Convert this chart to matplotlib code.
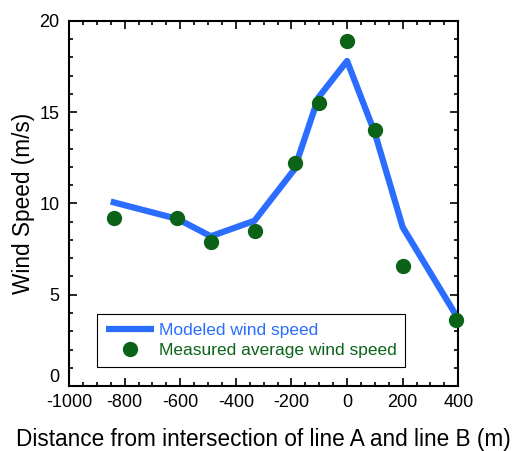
import numpy as np
import matplotlib
matplotlib.use('Agg')
import matplotlib.pyplot as plt
from matplotlib.ticker import MultipleLocator

plt.rcParams['font.family'] = ['Liberation Sans', 'DejaVu Sans']
plt.rcParams['axes.unicode_minus'] = False

# Modeled wind speed (line)
model_x = [-850, -610, -490, -333, -190, -103, 0, 100, 200, 395]
model_y = [10.1, 9.15, 8.2, 9.05, 11.85, 15.8, 17.8, 13.85, 8.7, 3.8]

# Measured average wind speed (dots)
meas_x = [-840, -610, -490, -330, -188, -100, 0, 100, 200, 393]
meas_y = [9.2, 9.2, 7.9, 8.5, 12.2, 15.5, 18.9, 14.0, 6.6, 3.6]

y_ticks = [0, 5, 10, 15, 20]

fig = plt.figure(figsize=(5.19, 4.51), dpi=100)
ax = fig.add_axes([0.133, 0.144, 0.750, 0.810])

ax.plot(model_x, model_y, color='#2a6dff', linewidth=4.5, solid_capstyle='butt',
        label='Modeled wind speed', zorder=2)
ax.plot(meas_x, meas_y, 'o', color='#0b6318', markersize=10, linestyle='none',
        label='Measured average wind speed', zorder=3, clip_on=False)

ax.set_xlim(-1000, 400)
ax.set_ylim(0, 20)
ax.xaxis.set_major_locator(MultipleLocator(200))
ax.xaxis.set_minor_locator(MultipleLocator(50))
ax.set_yticks(y_ticks)
ax.yaxis.set_minor_locator(MultipleLocator(1))
ax.tick_params(which='both', direction='in', top=True, right=True, width=1.2)
ax.tick_params(which='major', length=6, labelsize=13)
ax.tick_params(which='minor', length=3)
ax.tick_params(axis='x', pad=6)
ax.tick_params(axis='y', pad=7)
for s in ax.spines.values():
    s.set_linewidth(1.5)

# the "0" label sits above the corner so it clears "-1000"
ax.yaxis.get_major_ticks()[0].label1.set_verticalalignment('bottom')

ax.set_xlabel('Distance from intersection of line A and line B (m)', fontsize=16.3, labelpad=12)
ax.set_ylabel('Wind Speed (m/s)', fontsize=16.3, labelpad=3)

leg = ax.legend(loc='upper left', bbox_to_anchor=(97 / 519, 1 - 314 / 451),
                bbox_transform=fig.transFigure, fontsize=12.5,
                frameon=True, fancybox=False, edgecolor='black', framealpha=1,
                borderpad=0.5, borderaxespad=0, handlelength=2.8, handletextpad=0.25,
                labelspacing=0.3)
leg.get_frame().set_linewidth(0.8)
for txt, c in zip(leg.get_texts(), ['#2a6dff', '#0b6318']):
    txt.set_color(c)

fig.savefig('out.png', dpi=100)
